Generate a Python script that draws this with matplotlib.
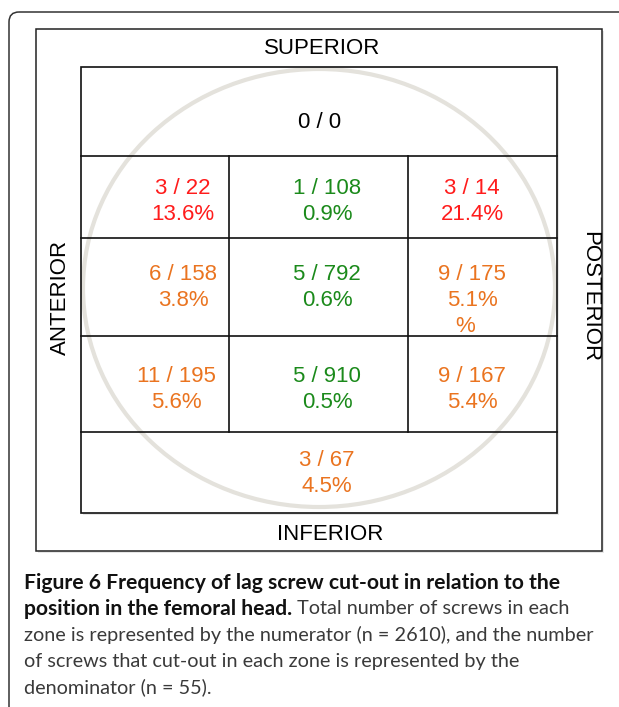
import matplotlib as mpl
mpl.use('Agg')
import matplotlib.pyplot as plt
from matplotlib.patches import Rectangle, Ellipse, FancyBboxPatch

# Zone data: cut-outs / screws (rows top->bottom)
zone_names = ['superior',
              'sup-ant', 'sup-mid', 'sup-post',
              'mid-ant', 'centre', 'mid-post',
              'inf-ant', 'inf-mid', 'inf-post',
              'inferior']
cut_outs = [0, 3, 1, 3, 6, 5, 9, 11, 5, 9, 3]
screws = [0, 22, 108, 14, 158, 792, 175, 195, 910, 167, 67]
percents = ['', '13.6%', '0.9%', '21.4%', '3.8%', '0.6%', '5.1%', '5.6%', '0.5%', '5.4%', '4.5%']
risk = ['none', 'high', 'low', 'high', 'mid', 'low', 'mid', 'mid', 'low', 'mid', 'mid']

side_labels = ['SUPERIOR', 'INFERIOR', 'ANTERIOR', 'POSTERIOR']

caption_bold = ['Figure 6 Frequency of lag screw cut-out in relation to the',
                'position in the femoral head.']
caption_rest = [' Total number of screws in each',
                'zone is represented by the numerator (n = 2610), and the number',
                'of screws that cut-out in each zone is represented by the',
                'denominator (n = 55).']

risk_colors = {'none': 'black', 'high': '#ff1c1c', 'low': '#1b8a1b', 'mid': '#ea7420'}

W, H = 619, 707
fig = plt.figure(figsize=(W / 100, H / 100), dpi=100)
ax = fig.add_axes([0, 0, 1, 1])
ax.set_xlim(0, W)
ax.set_ylim(H, 0)
ax.axis('off')

# outer rounded frame
ax.add_patch(FancyBboxPatch((9, 12), 640, 720, boxstyle='round,pad=0,rounding_size=10',
                            fill=False, ec='#333333', lw=1.1))

# inner frame with faint shadow
ax.add_patch(Rectangle((38, 31), 566, 522, fc='#d8d8d8', ec='none', alpha=0.6))
ax.add_patch(Rectangle((36, 29), 566, 522, fc='white', ec='#222222', lw=1.1))

# grid geometry (pixels)
xs = [81, 229, 408, 557]
ys = [67, 156, 238, 336, 432, 513]

ax.add_patch(Rectangle((xs[0] + 2, ys[0] + 2), xs[-1] - xs[0], ys[-1] - ys[0],
                       fc='#d8d8d8', ec='none', alpha=0.6))
ax.add_patch(Rectangle((xs[0], ys[0]), xs[-1] - xs[0], ys[-1] - ys[0], fc='white', ec='none'))

# femoral head outline
ax.add_patch(Ellipse((319, 288), 472, 438, fill=False, ec='#e4e2dc', lw=3.0))

lc = '#111111'
lw = 1.2
ax.add_patch(Rectangle((xs[0], ys[0]), xs[-1] - xs[0], ys[-1] - ys[0], fill=False, ec=lc, lw=lw))
for y in ys[1:-1]:
    ax.plot([xs[0], xs[-1]], [y, y], color=lc, lw=lw)
for x in xs[1:-1]:
    ax.plot([x, x], [ys[1], ys[-2]], color=lc, lw=lw)

font = 'Liberation Sans'
fs = 16

# text anchor positions for each zone
tx = [320, 183, 327, 472, 183, 327, 472, 176, 327, 472, 327]
ty = [123, 188, 188, 188, 274, 274, 274, 376, 376, 376, 461]
for i, name in enumerate(zone_names):
    c = risk_colors[risk[i]]
    ax.text(tx[i], ty[i], f'{cut_outs[i]} / {screws[i]}', ha='center', va='center',
            color=c, fontsize=fs, family=font)
    if percents[i]:
        ax.text(tx[i], ty[i] + 26, percents[i], ha='center', va='center',
                color=c, fontsize=fs, family=font)
# stray glyph in the mid-posterior zone
ax.text(465, 326, '%', ha='center', va='center', color=risk_colors['mid'], fontsize=fs, family=font)

ax.text(322, 48, side_labels[0], ha='center', va='center', fontsize=fs, family=font)
ax.text(330, 534, side_labels[1], ha='center', va='center', fontsize=fs, family=font)
ax.text(60, 297, side_labels[2], ha='center', va='center', rotation=90, fontsize=fs, family=font)
ax.text(590, 297, side_labels[3], ha='center', va='center', rotation=-90, fontsize=fs, family=font)

# caption
cf = 'Lato'
cfs_b = 15.2
cfs_r = 14.3
x0 = 24
line_y = [583, 609, 635, 661, 687]
ax.text(x0, line_y[0], caption_bold[0], ha='left', va='center', fontsize=cfs_b,
        family=cf, weight='bold', color='#111111')
t = ax.text(x0, line_y[1], caption_bold[1], ha='left', va='center', fontsize=cfs_b,
            family=cf, weight='bold', color='#111111')
fig.canvas.draw()
bb = t.get_window_extent()
x_after = bb.x1  # pixel == data x here
ax.text(x_after, line_y[1], caption_rest[0], ha='left', va='center', fontsize=cfs_r,
        family=cf, color='#3a3a3a')
for k, line in enumerate(caption_rest[1:]):
    ax.text(x0, line_y[k + 2], line, ha='left', va='center', fontsize=cfs_r,
            family=cf, color='#3a3a3a')

fig.savefig('out.png', dpi=100)
